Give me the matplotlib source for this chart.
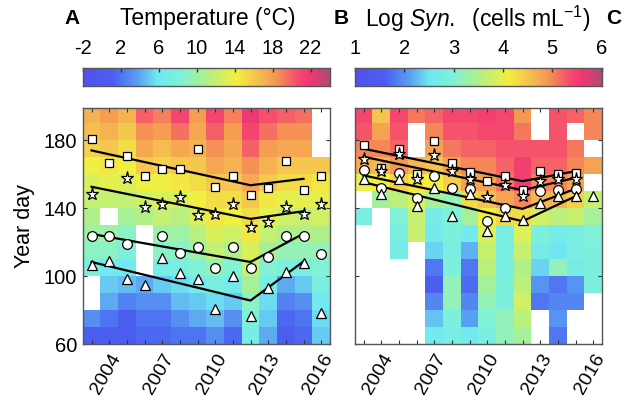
import numpy as np
import matplotlib
matplotlib.use("Agg")
import matplotlib.pyplot as plt
from matplotlib.colors import LinearSegmentedColormap

plt.rcParams['font.family'] = ['Liberation Sans', 'DejaVu Sans']
plt.rcParams['mathtext.fontset'] = 'custom'
plt.rcParams['mathtext.rm'] = 'Liberation Sans'
plt.rcParams['mathtext.it'] = 'Liberation Sans:italic'

years = list(range(2003, 2017))
day_edges = list(range(60, 201, 10))
nan = np.nan

# Temperature (deg C), one row per year, bins 60-70 ... 190-200 (bottom to top)
temp_grid = [
    [1, 3, nan, nan, 8, 9, 10, 11, 12, 13, 14, 15.5, 16.5, 17],      # 2003
    [1, 2, 4, 5, 6, 9, 10, nan, 12, 13.5, 14.5, 16, 17, 18],         # 2004
    [0.5, 1, 2.5, 4.5, 6, 8, 9, 10.5, 12, 13, 14, 15, 16, 17],       # 2005
    [1.5, 2, 3, 4, nan, nan, nan, 11, 12.5, 14, 16, 17.5, 18.5, 20], # 2006
    [1.5, 2, 3, 5, 7, 9, 10, 12, 13, 14, 15.5, 16.5, 18, 19],        # 2007
    [2, 3, 4.5, 5.5, 7.5, 9, 10, 11.5, 13, 14.5, 16, 17.5, 19.5, 21],# 2008
    [2, 4, 5, 6.5, 8.5, 10, 11.5, 13, 14, 15, 16, 17, 17.5, 18],     # 2009
    [3, 4.5, 5.5, 7.5, 9.5, 12, 13, 14.5, 15, 16, 17.5, 18.5, 20, 21],  # 2010
    [1.5, 3, 5, 6.5, 8.5, 11, 12.5, 14, 15, 16, 17, 17.5, 18, 19],   # 2011
    [7, 8, 9, 10.5, 12, 13, 14.5, 15, 16, 17.5, 18.5, 20, 21, 22],   # 2012
    [4, 5, 5.5, 7, 8.5, 10.5, 12, 13.5, 14.5, 16, 17, 18, 19.5, 20.5],  # 2013
    [1, 1.5, 2.5, 4, 8, 9.5, 11, 12.5, 13.5, 15, 16, 17.5, 18.5, 20],   # 2014
    [1.5, 2, 3, 5, 7.5, 9.5, 11, 12, 13.5, 15, 16, 17.5, 18.5, 19.5],   # 2015
    [5, 5.5, 6, 7.5, 8.5, 9.5, 11, 12.5, 13.5, 14.5, 16, nan, nan, nan],# 2016
]

# Log Synechococcus (cells/mL), same layout
syn_grid = [
    [nan, nan, nan, nan, nan, nan, nan, 2.8, nan, 4.0, 4.7, 5.0, 5.3, 5.4],  # 2003
    [nan, nan, nan, nan, nan, nan, nan, nan, 3.4, 4.1, 4.6, 5.0, 4.8, 4.5],  # 2004
    [nan, nan, nan, nan, nan, 2.7, 2.8, 3.0, 3.6, 4.4, 4.9, 5.2, 5.3, 5.4],  # 2005
    [nan, nan, nan, nan, nan, nan, 3.7, 3.7, 3.9, 4.2, 4.6, nan, nan, 5.1],  # 2006
    [2.6, 2.3, 1.9, 1.6, 1.8, 2.4, 2.6, 2.7, 3.4, 4.1, 4.5, 4.8, 5.0, 5.2],  # 2007
    [2.8, 2.9, 3.2, 3.2, 2.9, 2.8, 2.9, 3.0, 3.2, 4.4, 4.8, 5.1, 5.3, 5.4],  # 2008
    [2.6, 2.1, 1.9, 1.7, 1.8, 2.2, 2.6, 3.4, 4.3, 4.8, 5.0, 5.2, 5.3, 5.4],  # 2009
    [2.8, 3.0, 3.2, 3.4, 3.6, 3.7, 3.9, 4.1, 4.5, 4.8, 5.0, 5.2, 5.4, 5.5],  # 2010
    [3.2, 3.2, 2.9, 2.9, 2.8, 2.8, 2.8, 4.3, 4.8, 5.1, 5.2, 5.3, 5.4, 5.4],  # 2011
    [3.4, 3.6, 3.8, 3.6, 3.5, 3.7, 3.9, 4.3, 5.0, 5.5, 5.5, 5.3, 5.1, 4.9],  # 2012
    [nan, nan, 1.8, 2.0, 2.4, 2.7, 2.9, 3.8, 4.6, 5.0, 5.2, 5.3, nan, nan],  # 2013
    [1.8, 2.0, 1.9, 1.8, 3.2, 2.5, 2.7, 3.6, 4.6, 5.0, 5.2, 5.3, 5.3, 5.3],  # 2014
    [nan, nan, 1.9, 2.0, 2.7, 2.8, 2.8, 3.7, 4.4, 4.8, 5.0, 5.1, nan, 5.2],  # 2015
    [nan, nan, nan, 2.9, 2.9, 2.9, 3.0, 3.4, 3.7, nan, 4.8, nan, 5.0, 5.0],  # 2016
]

# Phenology markers (year day) -- panel A
a_square = [180.5, 166.8, 170.7, 158.9, 162.8, 162.8, 174.6, 152.6, 158.9, 147.6, 151.6, 167.7, 150.6, 158.9]
a_star = [148.4, nan, 157.5, 140.8, 142.5, 146.7, 135.8, 136.8, 142.7, 129.0, 131.7, 140.8, 136.8, 142.5]
a_circle = [123.8, 123.8, 118.9, nan, 123.8, 113.6, 117.3, 104.5, 117.3, 104.5, 111.0, 123.8, 123.8, 113.0]
a_triangle = [106.7, 108.6, 98.4, 94.5, 110.6, 101.8, 98.4, 80.7, 99.8, 76.5, 92.9, 102.4, 107.7, 78.5]

# Phenology markers -- panel B
b_square = [177.2, 163.8, 175.0, 159.9, 179.5, 166.8, 161.2, 155.9, 158.9, 150.6, 161.8, 159.9, 160.8, nan]
b_star = [169.1, 161.8, 171.7, 156.9, 171.1, 161.8, 156.9, 146.7, 153.4, 147.0, 155.9, 156.9, 156.9, nan]
b_circle = [162.4, 151.6, 160.8, 145.7, 158.9, 152.0, 151.4, 132.3, 140.2, nan, 150.0, 150.6, 151.0, nan]
b_triangle = [156.9, 148.4, 156.9, 141.5, 152.0, 135.6, 148.6, 126.4, 135.6, 133.3, 143.1, 147.0, 147.0, 147.0]

# Piecewise trend lines: values at 2003, 2012, 2015
trend_years = [2003, 2012, 2015]
a_trend_square = [174.0, 153.5, 157.3]
a_trend_star = [152.6, 133.7, 138.2]
a_trend_circle = [124.8, 108.3, 125.0]
a_trend_triangle = [108.3, 85.6, 108.6]
b_trend_square = [175.0, 155.9, 161.8]
b_trend_star = [170.3, 150.6, 157.9]
b_trend_circle = [159.3, 139.6, 151.4]
b_trend_triangle = [155.3, 132.3, 147.0]

cmap = LinearSegmentedColormap.from_list("pheno", [
    (0.00, "#5450ee"), (0.12, "#4a5ff0"), (0.22, "#5aa0f2"), (0.30, "#70e8f2"),
    (0.40, "#80f2d8"), (0.50, "#b0f08a"), (0.62, "#f2f040"), (0.70, "#f5c450"),
    (0.78, "#f59852"), (0.87, "#f54c6e"), (0.92, "#f03870"), (1.00, "#b04a78")])
cmap.set_bad("white")

W, H = 623, 400
fig = plt.figure(figsize=(W / 100, H / 100), dpi=100)

def ax_rect(x0, y0, x1, y1):
    return [x0 / W, 1 - y1 / H, (x1 - x0) / W, (y1 - y0) / H]

x_edges = np.arange(2002.5, 2017.0, 1.0)
spine_col = "#555555"

def make_panel(rect, grid, vmin, vmax, markers, trends, ylabels):
    ax = fig.add_axes(rect)
    data = np.ma.masked_invalid(np.array(grid, dtype=float).T)
    ax.pcolormesh(x_edges, day_edges, data, cmap=cmap, vmin=vmin, vmax=vmax, shading="flat")
    for tr in trends:
        ax.plot(trend_years, tr, color="black", lw=1.6, zorder=3)
    styles = [("s", 5.5), ("*", 9.5), ("o", 7), ("^", 7)]
    for vals, (m, ms) in zip(markers, styles):
        ax.plot(years, vals, ls="none", marker=m, ms=ms, mfc="white", mec="black",
                mew=0.9, zorder=4)
    ax.set_xlim(2002.5, 2016.5)
    ax.set_ylim(60, 199)
    ax.set_xticks([2004, 2007, 2010, 2013, 2016])
    ax.set_xticks(years, minor=True)
    ax.set_xticklabels(["2004", "2007", "2010", "2013", "2016"], rotation=60,
                       ha="right", va="top", rotation_mode="anchor", fontsize=14)
    ax.set_yticks([60, 100, 140, 180])
    if ylabels:
        ax.set_yticklabels(["60", "100", "140", "180"], fontsize=14.5)
    else:
        ax.set_yticklabels([])
    ax.tick_params(which="both", direction="in", top=True, right=True, length=3,
                   width=0.8, color="#333333", pad=4)
    ax.tick_params(axis="x", which="major", pad=5)
    for s in ax.spines.values():
        s.set_color(spine_col)
        s.set_linewidth(1.0)
    return ax

axA = make_panel(ax_rect(82.7, 108, 330, 344), temp_grid, -2, 24,
                 [a_square, a_star, a_circle, a_triangle],
                 [a_trend_square, a_trend_star, a_trend_circle, a_trend_triangle], True)
axA.set_ylabel("Year day", fontsize=15.5, labelpad=6)

axB = make_panel(ax_rect(354.7, 108, 602, 344), syn_grid, 1, 6,
                 [b_square, b_star, b_circle, b_triangle],
                 [b_trend_square, b_trend_star, b_trend_circle, b_trend_triangle], False)

def make_cbar(rect, vmin, vmax, ticks, labels):
    cax = fig.add_axes(rect)
    grad = np.linspace(vmin, vmax, 256)[None, :]
    cax.imshow(grad, aspect="auto", cmap=cmap, vmin=vmin, vmax=vmax,
               extent=[vmin, vmax, 0, 1])
    cax.set_yticks([])
    cax.xaxis.tick_top()
    cax.set_xticks(ticks)
    cax.set_xticklabels(labels, fontsize=14.5)
    cax.tick_params(axis="x", direction="in", length=3, width=1, color="#333333", pad=7)
    for s in cax.spines.values():
        s.set_color(spine_col)
        s.set_linewidth(1.0)
    return cax

make_cbar(ax_rect(83, 68, 329.5, 86), -2, 24, [-2, 2, 6, 10, 14, 18, 22],
          ["-2", "2", "6", "10", "14", "18", "22"])
make_cbar(ax_rect(355, 68, 601.5, 86), 1, 6, [1, 2, 3, 4, 5, 6],
          ["1", "2", "3", "4", "5", "6"])

fig.text(72 / W, 1 - 18 / H, "A", fontsize=15, fontweight="bold", ha="center", va="center")
fig.text(208 / W, 1 - 19 / H, "Temperature (°C)", fontsize=16.5, ha="center", va="center")
fig.text(341 / W, 1 - 18 / H, "B", fontsize=15, fontweight="bold", ha="center", va="center")
fig.text(478 / W, 1 - 19 / H, r"Log $\mathit{Syn.}$  (cells mL$^{\mathrm{-1}}$)", fontsize=16.5,
         ha="center", va="center")
fig.text(614 / W, 1 - 18 / H, "C", fontsize=15, fontweight="bold", ha="center", va="center")

fig.savefig("out.png", dpi=100)
